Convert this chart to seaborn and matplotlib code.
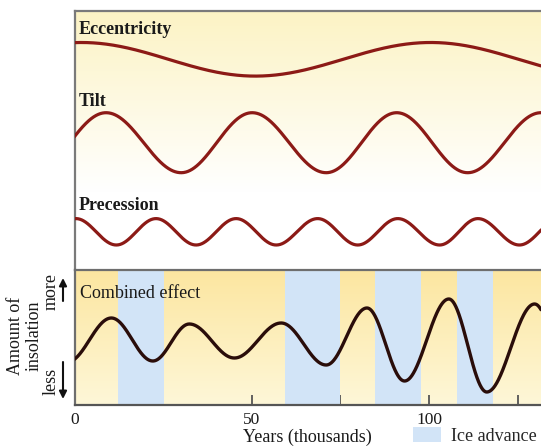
import numpy as np
import matplotlib
matplotlib.use("Agg")
import matplotlib.pyplot as plt
from matplotlib.patches import Patch, FancyArrowPatch
import seaborn as sns

# Turning points of each orbital cycle: years (thousands) and deviation from the curve's midline
ecc_years = [-48, 2, 51, 100.5, 150]
ecc_levels = [-16.8, 16.8, -16.8, 16.8, -16.8]

tilt_years = [-11.6, 8.9, 30.1, 50.1, 71.0, 90.9, 110.9, 131.6]
tilt_levels = [-30, 30, -30, 30, -30, 30, -30, 30]

prec_years = [-11.0, 0.4, 11.8, 23.0, 34.3, 45.6, 56.9, 68.6, 79.9, 91.2, 103.0, 113.8, 125.5, 136.8]
prec_levels = [-13.2, 13.2, -13.2, 13.2, -13.2, 13.2, -13.2, 13.2, -13.2, 13.2, -13.2, 13.2, -13.2, 13.2]

# Combined insolation: turning points (years in thousands, relative insolation)
comb_years = [-2, 10.4, 22.1, 32.4, 45.1, 58.3, 71.0, 82.5, 93.1, 105.6, 116.3, 129.8, 141]
comb_levels = [43, 87, 44, 81, 47, 82, 40, 97, 24, 106, 13, 101, 10]

# Ice-advance intervals (thousands of years)
ice_start = [12.2, 59.5, 84.8, 107.8]
ice_end = [25.2, 75.0, 97.7, 118.1]

panel_labels = ["Eccentricity", "Tilt", "Precession"]
x_major = [0, 50, 100]
x_minor = [25, 75, 125]

W, H = 541, 447
X0, X1 = 0, 131.6


def smooth_through(years, levels, step=0.1):
    """Half-cosine segments between successive turning points."""
    xs, ys = [], []
    for x0, y0, x1, y1 in zip(years[:-1], levels[:-1], years[1:], levels[1:]):
        t = np.arange(0, 1, step / (x1 - x0))
        xs.append(x0 + t * (x1 - x0))
        ys.append(y0 + (y1 - y0) * (1 - np.cos(np.pi * t)) / 2)
    xs.append([years[-1]])
    ys.append([levels[-1]])
    return np.concatenate(xs), np.concatenate(ys)


sns.set_theme(style="white")
plt.rcParams["font.family"] = ["Liberation Serif", "DejaVu Serif"]

fig = plt.figure(figsize=(W / 100, H / 100), dpi=100)
left = 74.5 / W
ax_top = fig.add_axes([left, 1 - 270 / H, 1 - left, (270 - 10.5) / H])
ax_bot = fig.add_axes([left, 1 - 405 / H, 1 - left, (405 - 270) / H])

# ---- top panel: the three orbital cycles ----
top_h = 270 - 10.5
ax_top.set_xlim(X0, X1)
ax_top.set_ylim(0, top_h)
grad = np.linspace(0, 1, 256)[:, None]
yellow = np.array([252, 243, 196]) / 255
white = np.ones(3)
frac = np.clip((grad - 0.30) / 0.70, 0, 1)  # 0 at lower part -> 1 at top
img = white * (1 - frac[..., None]) + yellow * frac[..., None]
ax_top.imshow(img, extent=[X0, X1, 0, top_h], origin="lower", aspect="auto", zorder=0)

curve_red = "#8c1a16"
midlines = [270 - 59.3, 270 - 142.7, 270 - 231.8]
series = [(ecc_years, ecc_levels), (tilt_years, tilt_levels), (prec_years, prec_levels)]
for (yrs, lv), mid in zip(series, midlines):
    xs, ys = smooth_through(yrs, lv)
    sns.lineplot(x=xs, y=ys + mid, ax=ax_top, color=curve_red, linewidth=2.3,
                 sort=False, estimator=None, zorder=3)

label_base = [270 - 33.5, 270 - 105.5, 270 - 210]
for name, yb in zip(panel_labels, label_base):
    ax_top.text(1.3, yb, name, fontsize=13, fontweight="bold", color="#1a1a1a",
                va="baseline", ha="left", zorder=4)

ax_top.set_xticks([])
ax_top.set_yticks([])
for side in ["right", "bottom"]:
    ax_top.spines[side].set_visible(False)
for side in ["top", "left"]:
    ax_top.spines[side].set_color("#7a7a7a")
    ax_top.spines[side].set_linewidth(1.6)

# ---- bottom panel: combined effect ----
bot_h = 135
ax_bot.set_xlim(X0, X1)
ax_bot.set_ylim(0, bot_h)
y_top = np.array([252, 230, 160]) / 255
y_bot = np.array([254, 247, 216]) / 255
img2 = y_bot * (1 - grad[..., None]) + y_top * grad[..., None]
ax_bot.imshow(img2, extent=[X0, X1, 0, bot_h], origin="lower", aspect="auto", zorder=0)
ice_color = "#d2e4f7"
for s, e in zip(ice_start, ice_end):
    ax_bot.axvspan(s, e, color=ice_color, lw=0, zorder=1)

xs, ys = smooth_through(comb_years, comb_levels)
sns.lineplot(x=xs, y=ys, ax=ax_bot, color="#2a0d0a", linewidth=2.4,
             sort=False, estimator=None, zorder=3)
ax_bot.text(1.5, 405 - 297.5, "Combined effect", fontsize=13, color="#1a1a1a",
            va="baseline", ha="left", zorder=4)

ax_bot.set_xticks(x_major)
ax_bot.set_xticks(x_minor, minor=True)
ax_bot.set_xticklabels([str(v) for v in x_major], fontsize=12.5, color="#1a1a1a")
ax_bot.tick_params(axis="x", which="both", direction="in", length=7, width=1.3,
                   color="#555555", pad=5, bottom=True)
ax_bot.set_yticks([])
ax_bot.spines["right"].set_visible(False)
for side in ["top", "left", "bottom"]:
    ax_bot.spines[side].set_color("#6e6e6e")
    ax_bot.spines[side].set_linewidth(1.6)
ax_bot.spines["bottom"].set_color("#555555")

# axis titles
fig.text(307.7 / W, 1 - 442 / H, "Years (thousands)", fontsize=13, ha="center",
         va="baseline", color="#1a1a1a")
fig.text(16 / W, 1 - 336 / H, "Amount of", fontsize=13, rotation=90,
         ha="center", va="center", color="#1a1a1a")
fig.text(34 / W, 1 - 336 / H, "insolation", fontsize=13, rotation=90,
         ha="center", va="center", color="#1a1a1a")
fig.text(51 / W, 1 - 291 / H, "more", fontsize=13, rotation=90,
         ha="center", va="center", color="#1a1a1a")
fig.text(51 / W, 1 - 381 / H, "less", fontsize=13, rotation=90,
         ha="center", va="center", color="#1a1a1a")
arrow = dict(arrowstyle="-|>", color="#111111", lw=1.5, mutation_scale=11,
             shrinkA=0, shrinkB=0)
fig.add_artist(FancyArrowPatch((63, H - 301), (63, H - 278), transform=None, **arrow))
fig.add_artist(FancyArrowPatch((63, H - 362), (63, H - 399), transform=None, **arrow))

# legend
handle = Patch(facecolor=ice_color, edgecolor="none", label="Ice advance")
fig.legend(handles=[handle], loc="lower left", bbox_to_anchor=(413 / W, 0.004),
           frameon=False, fontsize=13, handlelength=1.55, handleheight=0.9,
           handletextpad=0.55, borderpad=0, borderaxespad=0)

fig.savefig("out.png", dpi=100)
